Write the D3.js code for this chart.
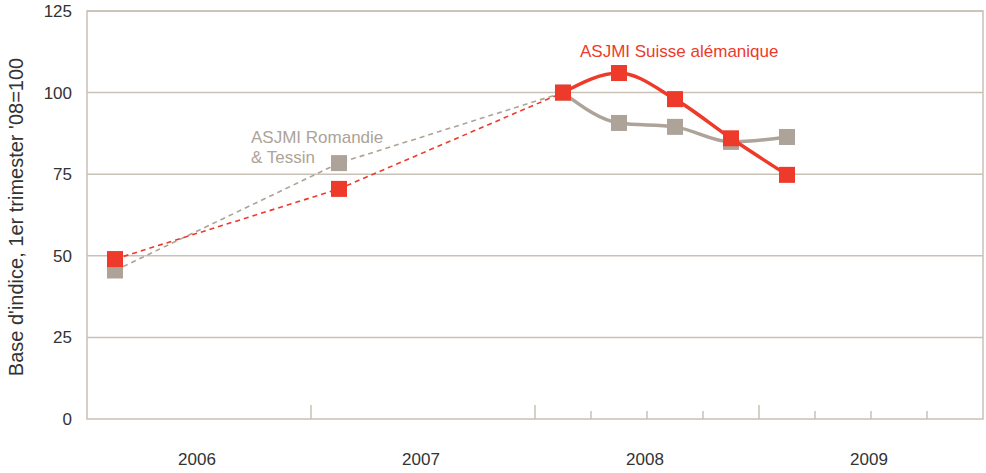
<!DOCTYPE html>
<html>
<head>
<meta charset="utf-8">
<script src="https://cdn.jsdelivr.net/npm/d3@7"></script>
<style>
  body { margin: 0; background: #fff; }
  svg { font-family: 'Liberation Sans', Arial, sans-serif; }
</style>
</head>
<body>
<div id="viz"></div>
<script>
const width = 986;
const height = 473;
const margin = {top: 11, right: 3, bottom: 54, left: 87};

// data
const years = ['2006', '2007', '2008', '2009'];
const quarterIndex = [0, 4, 8, 9, 10, 11, 12]; // quarters since 2006 T1
const suisseAlemanique = [49, 70.5, 100, 106, 98, 86, 74.8];
const romandieTessin = [45.5, 78.4, 100, 90.7, 89.5, 84.9, 86.4];
const yTicks = [0, 25, 50, 75, 100, 125];

const red = '#ee3a2b';
const grey = '#ada398';
const gridColor = '#c9c0b6';

const svg = d3.select('#viz')
    .append('svg')
        .attr('width', width)
        .attr('height', height);

const x = d3.scaleLinear()
    .domain([0, years.length * 4])
    .range([margin.left, width - margin.right]);

const y = d3.scaleLinear()
    .domain([0, 125])
    .range([height - margin.bottom, margin.top]);

// grid lines
svg.append('g')
    .selectAll('line')
    .data(yTicks.filter(d => d > 0))
    .join('line')
        .attr('x1', x(0))
        .attr('x2', x(16))
        .attr('y1', d => y(d))
        .attr('y2', d => y(d))
        .attr('stroke', gridColor)
        .attr('stroke-width', 1.5);

// frame
svg.append('rect')
    .attr('x', x(0))
    .attr('y', y(125))
    .attr('width', x(16) - x(0))
    .attr('height', y(0) - y(125))
    .attr('fill', 'none')
    .attr('stroke', gridColor)
    .attr('stroke-width', 1.5);

// y tick labels
svg.append('g')
    .selectAll('text')
    .data(yTicks)
    .join('text')
        .attr('x', 72)
        .attr('y', d => y(d) + 6)
        .attr('text-anchor', 'end')
        .attr('font-size', 17)
        .attr('fill', '#333')
        .text(d => d);

svg.append('text')
    .attr('transform', `translate(23, ${(y(0) + y(125)) / 2 + 2}) rotate(-90)`)
    .attr('text-anchor', 'middle')
    .attr('font-size', 20)
    .attr('fill', '#333')
    .text("Base d'indice, 1er trimester '08=100");

// x ticks: years everywhere, quarters for 2008 and 2009
const majorTicks = [4, 8, 12];
const minorTicks = [9, 10, 11, 13, 14, 15];
svg.append('g')
    .selectAll('line')
    .data(majorTicks)
    .join('line')
        .attr('x1', d => x(d)).attr('x2', d => x(d))
        .attr('y1', y(0) - 14).attr('y2', y(0))
        .attr('stroke', gridColor)
        .attr('stroke-width', 1.5);
svg.append('g')
    .selectAll('line')
    .data(minorTicks)
    .join('line')
        .attr('x1', d => x(d)).attr('x2', d => x(d))
        .attr('y1', y(0) - 8).attr('y2', y(0))
        .attr('stroke', gridColor)
        .attr('stroke-width', 1.5);

svg.append('g')
    .selectAll('text')
    .data(years)
    .join('text')
        .attr('x', (d, i) => x(i * 4 + 2) - 2)
        .attr('y', 465)
        .attr('text-anchor', 'middle')
        .attr('font-size', 17)
        .attr('fill', '#333')
        .text(d => d);

function drawSeries(values, color) {
    const pts = values.map((v, i) => [x(quarterIndex[i] + 0.5), y(v)]);
    const straight = d3.line();
    const smooth = d3.line().curve(d3.curveMonotoneX);

    svg.append('path')
        .attr('d', straight(pts.slice(0, 3)))
        .attr('fill', 'none')
        .attr('stroke', color)
        .attr('stroke-width', 1.6)
        .attr('stroke-dasharray', '5,4');

    svg.append('path')
        .attr('d', smooth(pts.slice(2)))
        .attr('fill', 'none')
        .attr('stroke', color)
        .attr('stroke-width', 3.5);

    const size = 16;
    svg.append('g')
        .selectAll('rect')
        .data(pts)
        .join('rect')
            .attr('x', d => d[0] - size / 2)
            .attr('y', d => d[1] - size / 2)
            .attr('width', size)
            .attr('height', size)
            .attr('fill', color);
}

drawSeries(romandieTessin, grey);
drawSeries(suisseAlemanique, red);

svg.append('text')
    .attr('x', 580)
    .attr('y', 57)
    .attr('font-size', 17)
    .attr('fill', red)
    .text('ASJMI Suisse alémanique');

svg.append('text')
    .attr('x', 251)
    .attr('y', 143)
    .attr('font-size', 17)
    .attr('fill', grey)
    .text('ASJMI Romandie');
svg.append('text')
    .attr('x', 251)
    .attr('y', 163)
    .attr('font-size', 17)
    .attr('fill', grey)
    .text('& Tessin');
</script>
</body>
</html>
